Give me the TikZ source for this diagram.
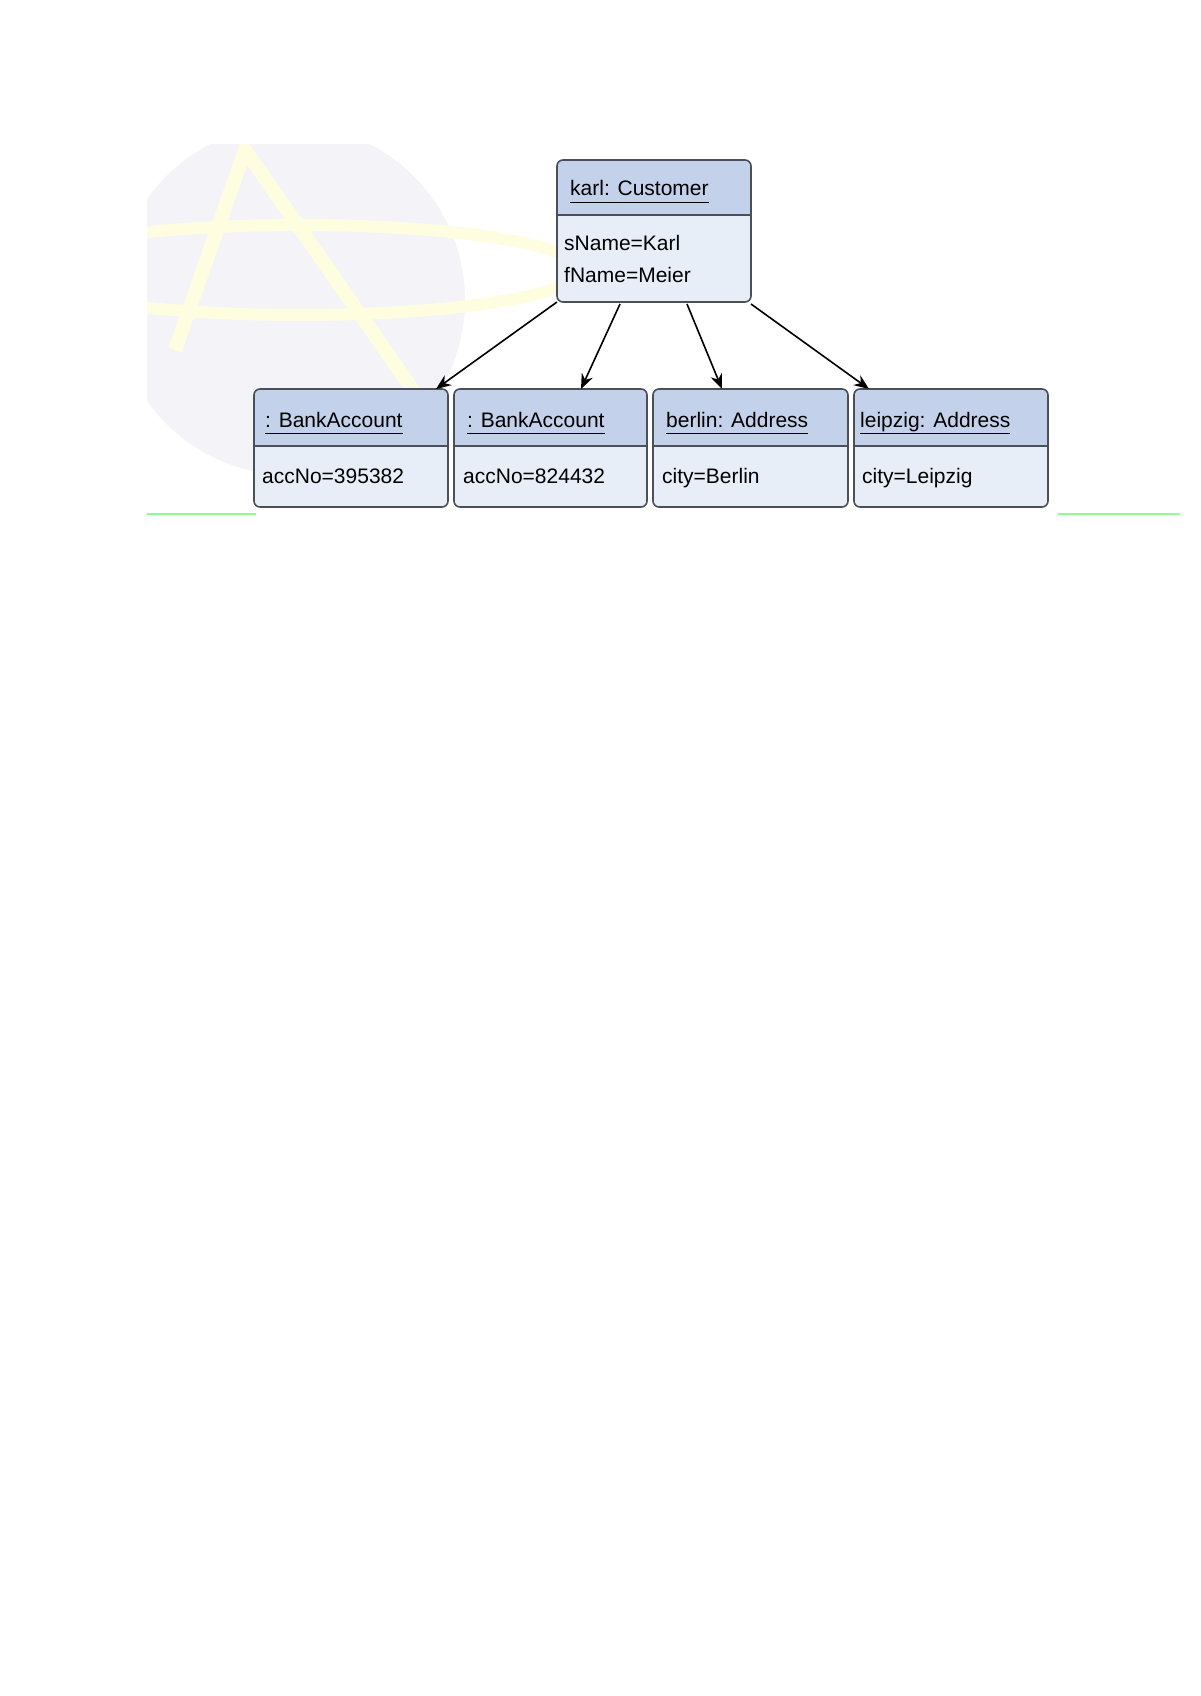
\documentclass[tikz,border=0pt]{standalone}
\usepackage{fontspec}
\setmainfont{Liberation Sans}
\usetikzlibrary{arrows.meta}
\definecolor{hdr}{HTML}{C3D2EA}
\definecolor{bdy}{HTML}{E8EEF8}
\definecolor{edge}{HTML}{4A4F58}
\tikzset{
  objbox/.style={draw=edge, line width=1.6pt, rounded corners=6pt},
  lbl/.style={anchor=base west, font=\fontsize{21}{26}\selectfont, inner sep=0pt},
  assoc/.style={-{Stealth[length=15pt,width=12pt]}, line width=1.6pt}
}
\newcommand{\ul}[1]{\underline{#1\vphantom{gp}}}
\newcommand{\objnode}[7]{%
  \fill[bdy, rounded corners=6pt] (#2,#3) rectangle (#4,#5);
  \begin{scope}
    \clip[rounded corners=6pt] (#2,#3) rectangle (#4,#5);
    \fill[hdr] (#2,#3) rectangle (#4,#6);
  \end{scope}
  \draw[edge, line width=1.6pt] (#2,#6) -- (#4,#6);
  \draw[objbox] (#2,#3) rectangle (#4,#5);
  #7
}
\begin{document}
\begin{tikzpicture}[x=1pt,y=-1pt]
\useasboundingbox (0,0) rectangle (1200,1696);
\fill[white] (0,0) rectangle (1200,1696);
\begin{scope}
\clip (147,145) rectangle (1180,514);
\fill[blue!25!gray!7] (290,300) circle (175);
\draw[yellow!12, line width=14pt] (175,350) -- (245,150) -- (420,400);
\draw[yellow!12, line width=12pt] (300,270) ellipse (280 and 45);
\end{scope}
\draw[green!45, line width=2pt] (147,514) -- (256,514);
\draw[green!45, line width=2pt] (1058,514) -- (1180,514);
\objnode{cust}{557}{160}{751}{302}{215}{
  \node[lbl] at (570,196) {\ul{karl: Customer}};
  \node[lbl] at (564,251) {sName=Karl};
  \node[lbl] at (564,283) {fName=Meier};}
\objnode{b1}{254}{389}{448}{507}{446}{
  \node[lbl] at (265,427) {\ul{: BankAccount}};
  \node[lbl] at (262,483) {accNo=395382};}
\objnode{b2}{454}{389}{647}{507}{446}{
  \node[lbl] at (467,427) {\ul{: BankAccount}};
  \node[lbl] at (463,483) {accNo=824432};}
\objnode{b3}{653}{389}{848}{507}{446}{
  \node[lbl] at (666,427) {\ul{berlin: Address}};
  \node[lbl] at (662,483) {city=Berlin};}
\objnode{b4}{854}{389}{1048}{507}{446}{
  \node[lbl] at (860,427) {\ul{leipzig: Address}};
  \node[lbl] at (862,483) {city=Leipzig};}
\coordinate (c1) at (557,302);
\coordinate (c2) at (620,304);
\coordinate (c3) at (687,304);
\coordinate (c4) at (751,304);
\coordinate (t1) at (436,389);
\coordinate (t2) at (581,389);
\coordinate (t3) at (722,389);
\coordinate (t4) at (869,389);
\draw[assoc] (c1) -- (t1);
\draw[assoc] (c2) -- (t2);
\draw[assoc] (c3) -- (t3);
\draw[assoc] (c4) -- (t4);
\end{tikzpicture}
\end{document}
